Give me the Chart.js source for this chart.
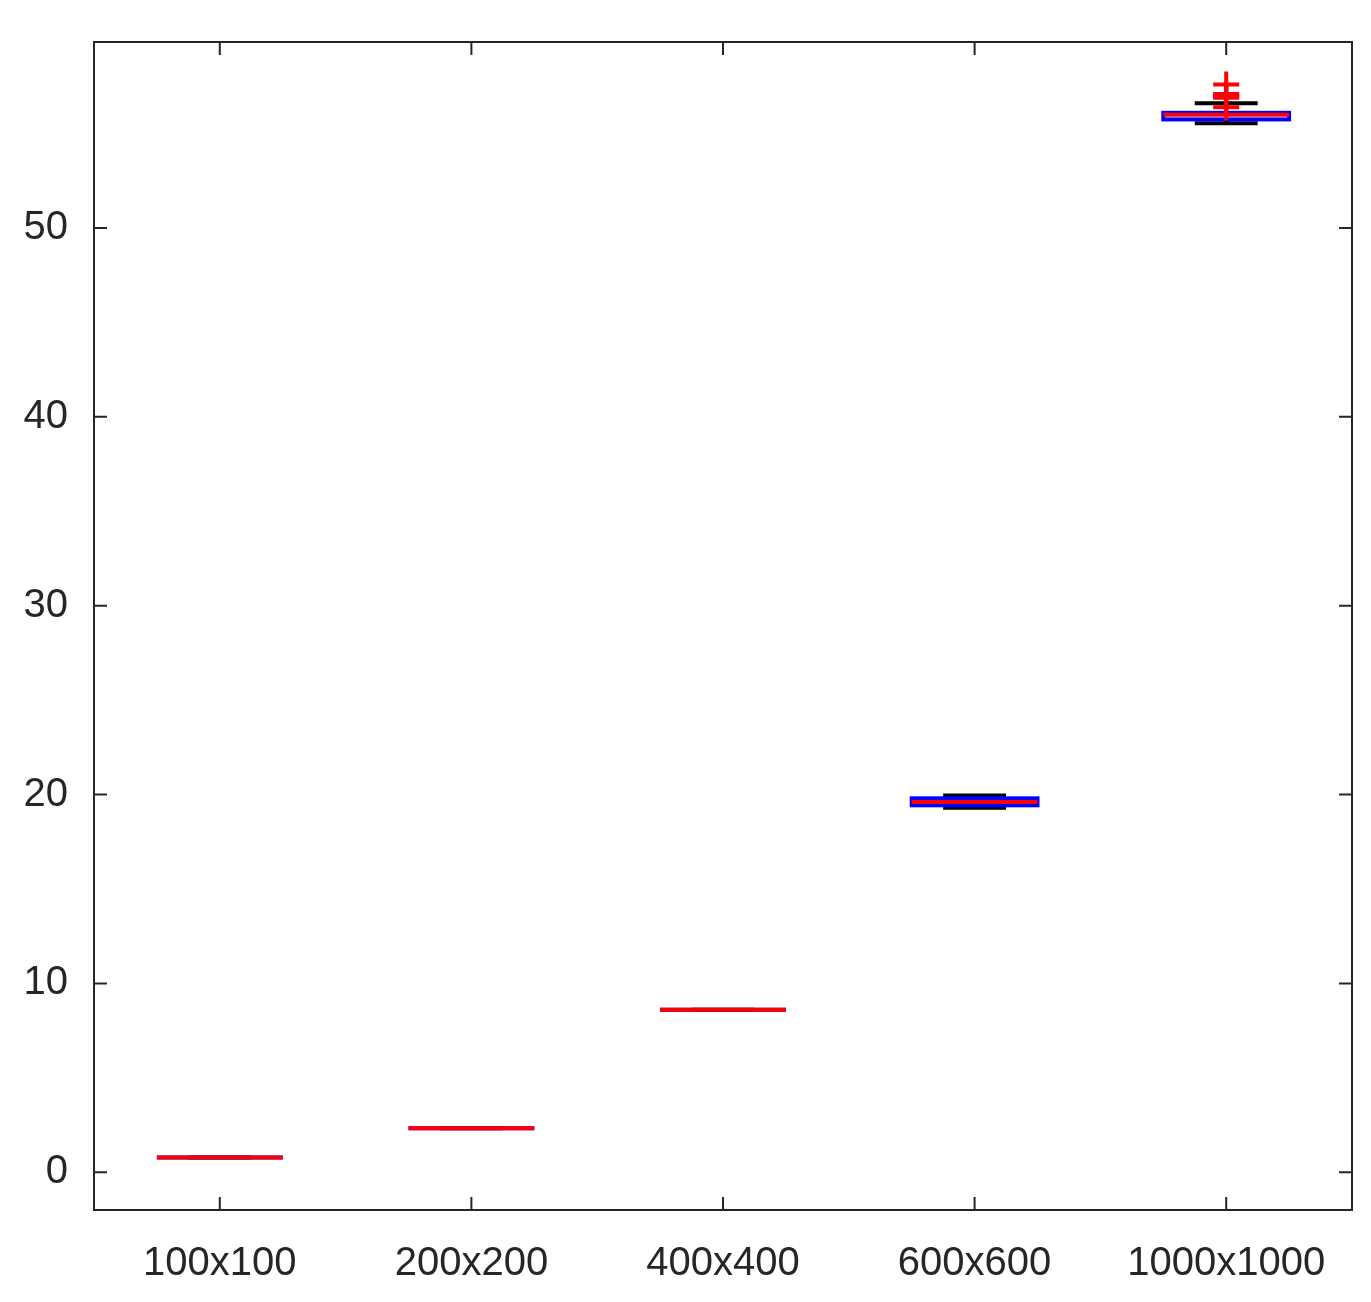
<!DOCTYPE html>
<html><head><meta charset="utf-8">
<script src="https://cdn.jsdelivr.net/npm/chart.js@4"></script>
<style>html,body{margin:0;background:#fff}#wrap{width:1371px;height:1302px}</style>
</head><body><div id="wrap"><canvas id="c"></canvas></div>
<script>
// categories and box statistics (seconds)
const sizes = ['100x100','200x200','400x400','600x600','1000x1000'];
const lowWhisker = [0.78, 2.33, 8.6, 19.3, 55.55];
const q1 = [0.78, 2.33, 8.6, 19.43, 55.75];
const median = [0.78, 2.33, 8.6, 19.6, 56.0];
const q3 = [0.78, 2.33, 8.6, 19.8, 56.1];
const highWhisker = [0.78, 2.33, 8.6, 19.95, 56.6];
const outliers = [[], [], [], [], [57.6, 57.1, 57.0, 56.9, 56.4]];
const yTicks = [0, 10, 20, 30, 40, 50];

const boxPlugin = {
  id: 'box',
  afterDatasetsDraw(chart) {
    const ctx = chart.ctx, x = chart.scales.x, y = chart.scales.y, a = chart.chartArea;
    const bw = (x.getPixelForValue(1) - x.getPixelForValue(0)) * 0.5;
    ctx.save();
    sizes.forEach((s, i) => {
      const cx = x.getPixelForValue(i);
      const yl = y.getPixelForValue(lowWhisker[i]), yh = y.getPixelForValue(highWhisker[i]);
      const y1 = y.getPixelForValue(q1[i]), y3 = y.getPixelForValue(q3[i]);
      const ym = y.getPixelForValue(median[i]);
      // whiskers
      ctx.strokeStyle = '#000'; ctx.lineWidth = 4;
      ctx.beginPath();
      ctx.moveTo(cx, yl); ctx.lineTo(cx, y1); ctx.moveTo(cx, y3); ctx.lineTo(cx, yh);
      ctx.moveTo(cx - bw/4, yl); ctx.lineTo(cx + bw/4, yl);
      ctx.moveTo(cx - bw/4, yh); ctx.lineTo(cx + bw/4, yh);
      ctx.stroke();
      // box
      ctx.strokeStyle = '#0000ff'; ctx.lineWidth = 4;
      ctx.strokeRect(cx - bw/2, y3, bw, y1 - y3);
      // median
      ctx.strokeStyle = '#ff0000'; ctx.lineWidth = 4;
      ctx.beginPath(); ctx.moveTo(cx - bw/2, ym); ctx.lineTo(cx + bw/2, ym); ctx.stroke();
      // outliers
      outliers[i].forEach(v => {
        const py = y.getPixelForValue(v);
        ctx.beginPath();
        ctx.moveTo(cx - 13, py); ctx.lineTo(cx + 13, py);
        ctx.moveTo(cx, py - 13); ctx.lineTo(cx, py + 13);
        ctx.stroke();
      });
    });
    // frame and inward ticks
    ctx.strokeStyle = '#262626'; ctx.lineWidth = 2;
    ctx.strokeRect(a.left, a.top, a.right - a.left, a.bottom - a.top);
    ctx.beginPath();
    yTicks.forEach(t => {
      const py = y.getPixelForValue(t);
      ctx.moveTo(a.left, py); ctx.lineTo(a.left + 13, py);
      ctx.moveTo(a.right, py); ctx.lineTo(a.right - 13, py);
    });
    sizes.forEach((s, i) => {
      const px = x.getPixelForValue(i);
      ctx.moveTo(px, a.bottom); ctx.lineTo(px, a.bottom - 13);
      ctx.moveTo(px, a.top); ctx.lineTo(px, a.top + 13);
    });
    ctx.stroke();
    ctx.restore();
  }
};

new Chart(document.getElementById('c'), {
  type: 'line',
  data: { labels: sizes, datasets: [{ data: median, showLine: false, pointRadius: 0 }] },
  options: {
    responsive: true, maintainAspectRatio: false, animation: false,
    layout: { padding: { top: -8, right: 19, left: 0, bottom: 0 } },
    plugins: { legend: { display: false }, tooltip: { enabled: false } },
    scales: {
      x: {
        offset: true,
        grid: { display: false }, border: { display: false },
        ticks: { color: '#262626', font: { family: 'Liberation Sans', size: 40 }, padding: 22, maxRotation: 0 },
        afterFit: s => { s.height = 92; }
      },
      y: {
        min: -2, max: 59.85,
        grid: { display: false }, border: { display: false },
        afterBuildTicks: s => { s.ticks = yTicks.map(v => ({ value: v })); },
        ticks: { color: '#262626', font: { family: 'Liberation Sans', size: 40 }, padding: 18 },
        afterFit: s => { s.width = 94; }
      }
    }
  },
  plugins: [boxPlugin]
});
</script></body></html>
